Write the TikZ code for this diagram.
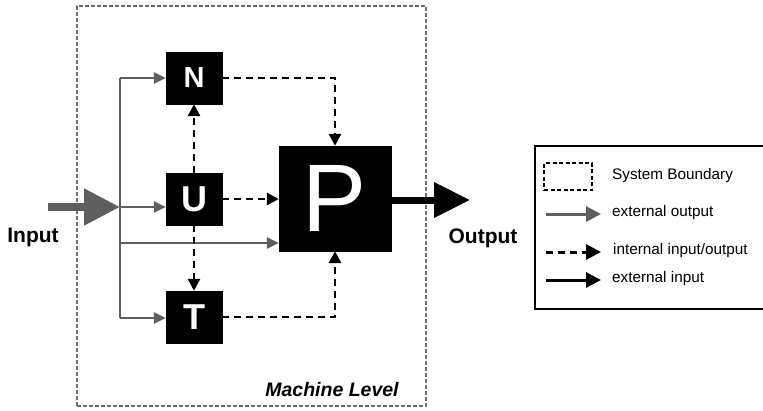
\documentclass[tikz,border=0pt]{standalone}
\usepackage{fontspec}
\setmainfont{Liberation Sans}
\usetikzlibrary{arrows.meta}
\definecolor{arrgray}{HTML}{5E5E5E}
\definecolor{bndgray}{HTML}{707070}
\begin{document}
\begin{tikzpicture}[x=1pt,y=-1pt,
  blk/.style={fill=black, draw=black, inner sep=0pt, text=white},
  gline/.style={draw=arrgray, line width=2.6pt, -{Triangle[length=12pt,width=11pt]}},
  dline/.style={draw=black, line width=2.8pt, dash pattern=on 7pt off 5pt, -{Triangle[length=12pt,width=12pt]}},
  lgline/.style={draw=arrgray, line width=3pt, -{Triangle[length=15pt,width=15pt]}},
  ldline/.style={draw=black, line width=3pt, dash pattern=on 7pt off 5pt, -{Triangle[length=15pt,width=15pt]}},
  lbline/.style={draw=black, line width=3pt, -{Triangle[length=15pt,width=15pt]}},
  lbl/.style={font=\fontsize{21}{24}\selectfont\bfseries},
  legtxt/.style={anchor=west, font=\fontsize{15.3}{18}\selectfont, inner sep=0pt},
]
\useasboundingbox (0,0) rectangle (763,410);

% system boundary
\node[draw=bndgray, line width=1.6pt, dash pattern=on 4pt off 2pt, minimum width=349pt, minimum height=400pt, inner sep=0pt] (bound) at (251.5,206) {};
\node[font=\fontsize{19.5}{22}\selectfont\bfseries\itshape] (ml) at (332,390) {Machine Level};

% boxes
\node[blk, minimum width=56pt, minimum height=52pt, font=\fontsize{29}{29}\selectfont\bfseries] (N) at (194,78) {N};
\node[blk, minimum width=56pt, minimum height=52pt, font=\fontsize{36}{36}\selectfont\bfseries] (U) at (194,199) {U};
\node[blk, minimum width=56pt, minimum height=52pt, font=\fontsize{36}{36}\selectfont\bfseries] (T) at (194,317) {T};
\node[blk, minimum width=112pt, minimum height=105pt, font=\fontsize{96}{96}\selectfont] (P) at (335,198.5) {P};

% input
\node[lbl] (inlbl) at (33,237) {Input};
\coordinate (in0) at (48,207);
\coordinate (split) at (120,207);
\draw[arrgray, line width=8pt, -{Triangle[length=36pt,width=35pt]}] (in0) -- (split);
\coordinate (vtop) at (120,78);
\coordinate (vbot) at (120,318);
\coordinate (vp) at (120,243);
\draw[arrgray, line width=2.6pt] (vtop) -- (vbot);
\draw[gline] (vtop) -- (N.west);
\draw[gline] (split) -- (U.west |- split);
\draw[gline] (vp) -- (P.west |- vp);
\draw[gline] (vbot) -- (T.west |- vbot);

% internal
\draw[dline] (N.east) -| (P.north);
\draw[dline] (T.east) -| (P.south);
\draw[dline] (U.east) -- (P.west |- U.east);
\draw[dline] (U.north) -- (N.south);
\draw[dline] (U.south) -- (T.north);

% output
\coordinate (outtip) at (470,200);
\draw[black, line width=7pt, -{Triangle[length=36pt,width=34pt]}] (P.east |- outtip) -- (outtip);
\node[lbl] (outlbl) at (483,238) {Output};

% legend
\node[draw=black, line width=2pt, minimum width=232pt, minimum height=163pt, inner sep=0pt] (leg) at (651,227.5) {};
\node[draw=black, line width=1.6pt, dash pattern=on 4pt off 2.5pt, minimum width=48pt, minimum height=27pt, inner sep=0pt] (lsb) at (568,176.5) {};
\node[legtxt] (t1) at (612,176) {System Boundary};
\coordinate (a1) at (546,214); \coordinate (b1) at (601,214);
\draw[lgline] (a1) -- (b1);
\node[legtxt] (t2) at (612,213) {external output};
\coordinate (a2) at (546,252); \coordinate (b2) at (601,252);
\draw[ldline] (a2) -- (b2);
\node[legtxt] (t3) at (613,251) {internal input/output};
\coordinate (a3) at (546,280); \coordinate (b3) at (601,280);
\draw[lbline] (a3) -- (b3);
\node[legtxt] (t4) at (612,279) {external input};
\end{tikzpicture}
\end{document}
